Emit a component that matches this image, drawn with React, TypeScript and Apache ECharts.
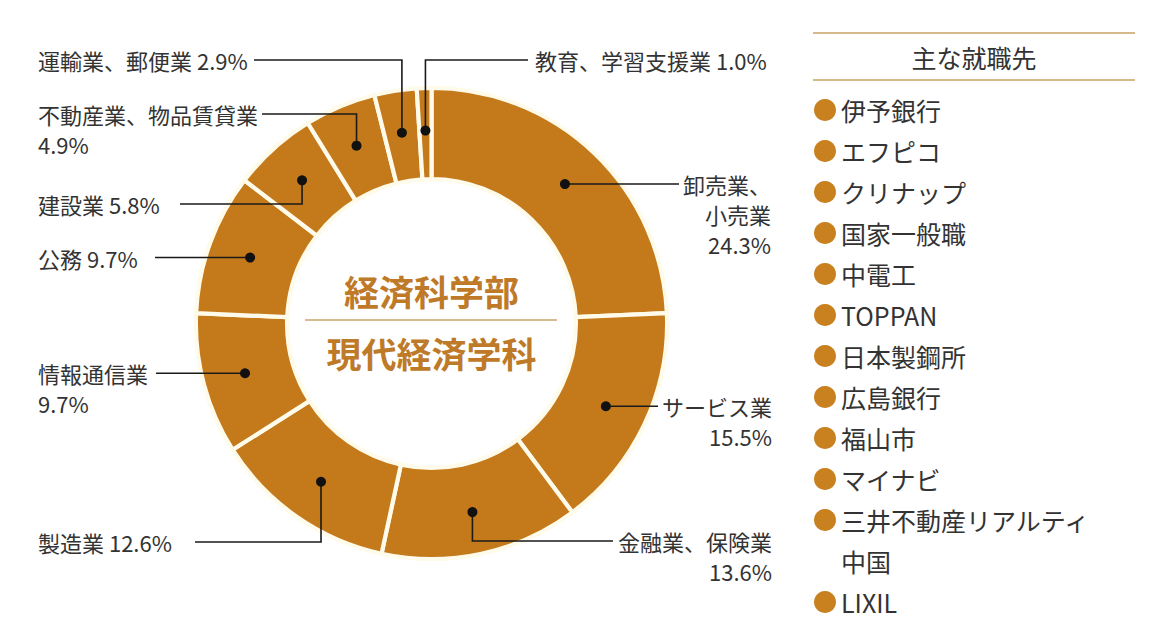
import React, { useEffect, useRef } from "react";
import * as echarts from "echarts";

// ---- data ----
const industries = [
  "卸売業、小売業",
  "サービス業",
  "金融業、保険業",
  "製造業",
  "情報通信業",
  "公務",
  "建設業",
  "不動産業、物品賃貸業",
  "運輸業、郵便業",
  "教育、学習支援業",
];
const shares = [24.3, 15.5, 13.6, 12.6, 9.7, 9.7, 5.8, 4.9, 2.9, 1.0];
const centerTitle = "経済科学部";
const centerSubtitle = "現代経済学科";
const employersTitle = "主な就職先";
const employers = [
  "伊予銀行",
  "エフピコ",
  "クリナップ",
  "国家一般職",
  "中電工",
  "TOPPAN",
  "日本製鋼所",
  "広島銀行",
  "福山市",
  "マイナビ",
  "三井不動産リアルティ\n中国",
  "LIXIL",
];

// ---- layout / style ----
const FONT = "'Noto Sans CJK JP', 'Noto Sans', sans-serif";
const RING = "#C47A1B";
const GOLD_TEXT = "#BE7A28";
const CX = 431.5;
const CY = 323.5;
const BORDER = 4.2;
const R_IN = 146.5 - BORDER / 2;
const R_OUT = 233.5 + BORDER / 2;
const R_DOT = 193;
const LH = 30;

// how each label text is broken (layout only)
const labelBreaks: Record<number, (n: string, v: string) => string> = {
  0: (n, v) => "卸売業、\n小売業\n" + v,
  1: (n, v) => n + "\n" + v,
  2: (n, v) => n + "\n" + v,
  3: (n, v) => n + " " + v,
  4: (n, v) => n + "\n" + v,
  5: (n, v) => n + " " + v,
  6: (n, v) => n + " " + v,
  7: (n, v) => n + "\n" + v,
  8: (n, v) => n + " " + v,
  9: (n, v) => n + " " + v,
};

type Place = { route: "h" | "v"; x: number; y?: number; end: number; align: "left" | "right" };
const labelPlaces: Place[] = [
  { route: "h", x: 771, end: 679, align: "right" },
  { route: "h", x: 772, end: 658, align: "right" },
  { route: "v", y: 541, x: 772, end: 613, align: "right" },
  { route: "v", y: 542, x: 38, end: 195, align: "left" },
  { route: "h", x: 38, end: 156, align: "left" },
  { route: "h", x: 38, end: 155, align: "left" },
  { route: "v", y: 204, x: 38, end: 180, align: "left" },
  { route: "v", y: 114, x: 38, end: 262, align: "left" },
  { route: "v", y: 60, x: 38, end: 254, align: "left" },
  { route: "v", y: 60, x: 535, end: 528, align: "left" },
];

function dotPositions(): number[][] {
  const total = shares.reduce((a, b) => a + b, 0);
  let acc = 0;
  return shares.map((v) => {
    const mid = ((acc + v / 2) / total) * Math.PI * 2;
    acc += v;
    return [CX + R_DOT * Math.sin(mid), CY - R_DOT * Math.cos(mid)];
  });
}

function leaderPoints(i: number, d: number[]): number[][] {
  const p = labelPlaces[i];
  if (p.route === "h") return [[d[0], d[1]], [p.end, d[1]]];
  return [
    [d[0], d[1]],
    [d[0], p.y as number],
    [p.end, p.y as number],
  ];
}

export default function App() {
  const ref = useRef<HTMLDivElement>(null);

  useEffect(() => {
    if (!ref.current) return;
    const chart = echarts.init(ref.current, undefined, { renderer: "svg" });
    const dots = dotPositions();

    const graphics: any[] = [];
    dots.forEach((d, i) => {
      graphics.push({
        type: "polyline",
        z: 100,
        silent: true,
        shape: { points: leaderPoints(i, d) },
        style: { stroke: "#1a1a1a", lineWidth: 1.6, fill: null },
      });
      graphics.push({
        type: "circle",
        z: 101,
        shape: { cx: d[0], cy: d[1], r: 5 },
        style: { fill: "#111" },
        silent: true,
      });
    });

    // center titles
    graphics.push({
      type: "text",
      x: CX,
      y: 290,
      z: 100,
      style: {
        text: centerTitle,
        fontFamily: FONT,
        fontSize: 35,
        fontWeight: "bold",
        fill: GOLD_TEXT,
        align: "center",
        verticalAlign: "middle",
      },
    });
    graphics.push({
      type: "line",
      z: 100,
      shape: { x1: 305, y1: 320, x2: 557, y2: 320 },
      style: { stroke: "#C9A46C", lineWidth: 1.5 },
    });
    graphics.push({
      type: "text",
      x: CX,
      y: 352,
      z: 100,
      style: {
        text: centerSubtitle,
        fontFamily: FONT,
        fontSize: 35,
        fontWeight: "bold",
        fill: GOLD_TEXT,
        align: "center",
        verticalAlign: "middle",
      },
    });

    // right panel
    graphics.push({
      type: "line",
      shape: { x1: 813, y1: 33, x2: 1135, y2: 33 },
      style: { stroke: "#D6B98A", lineWidth: 2 },
    });
    graphics.push({
      type: "line",
      shape: { x1: 813, y1: 80, x2: 1135, y2: 80 },
      style: { stroke: "#D6B98A", lineWidth: 2 },
    });
    graphics.push({
      type: "text",
      x: 974,
      y: 57,
      style: {
        text: employersTitle,
        fontFamily: FONT,
        fontSize: 25,
        fill: "#333",
        align: "center",
        verticalAlign: "middle",
      },
    });
    let row = 0;
    employers.forEach((e) => {
      const lines = e.split("\n");
      lines.forEach((ln, k) => {
        const y = 110 + row * 41;
        if (k === 0) {
          graphics.push({
            type: "circle",
            shape: { cx: 825, cy: y, r: 11 },
            style: { fill: "#C9801F" },
          });
        }
        graphics.push({
          type: "text",
          x: 841,
          y: y,
          style: {
            text: ln,
            fontFamily: FONT,
            fontSize: 25,
            fill: "#333",
            align: "left",
            verticalAlign: "middle",
          },
        });
        row++;
      });
    });

    chart.setOption({
      animation: false,
      backgroundColor: "#ffffff",
      graphic: graphics,
      series: [
        {
          type: "pie",
          center: [CX, CY],
          radius: [R_IN, R_OUT],
          startAngle: 90,
          clockwise: true,
          avoidLabelOverlap: false,
          silent: true,
          emphasis: { disabled: true },
          itemStyle: { color: RING, borderColor: "#FFFBEA", borderWidth: BORDER },
          label: {
            show: true,
            position: "outside",
            fontFamily: FONT,
            fontSize: 22,
            lineHeight: LH,
            color: "#333",
            formatter: (p: any) =>
              labelBreaks[p.dataIndex](p.name, Number(p.value).toFixed(1) + "%"),
          },
          labelLine: { show: false },
          labelLayout: (params: any) => {
            const i = params.dataIndex;
            const d = dots[i];
            const p = labelPlaces[i];
            const ly = p.route === "h" ? d[1] : (p.y as number);
            return {
              x: p.x,
              y: ly - LH / 2,
              align: p.align,
              verticalAlign: "top",
            };
          },
          data: industries.map((n, i) => ({ name: n, value: shares[i] })),
        },
      ],
    });

    return () => chart.dispose();
  }, []);

  return (
    <div
      ref={ref}
      style={{ position: "absolute", left: 0, top: 0, width: 1165, height: 636 }}
    />
  );
}
